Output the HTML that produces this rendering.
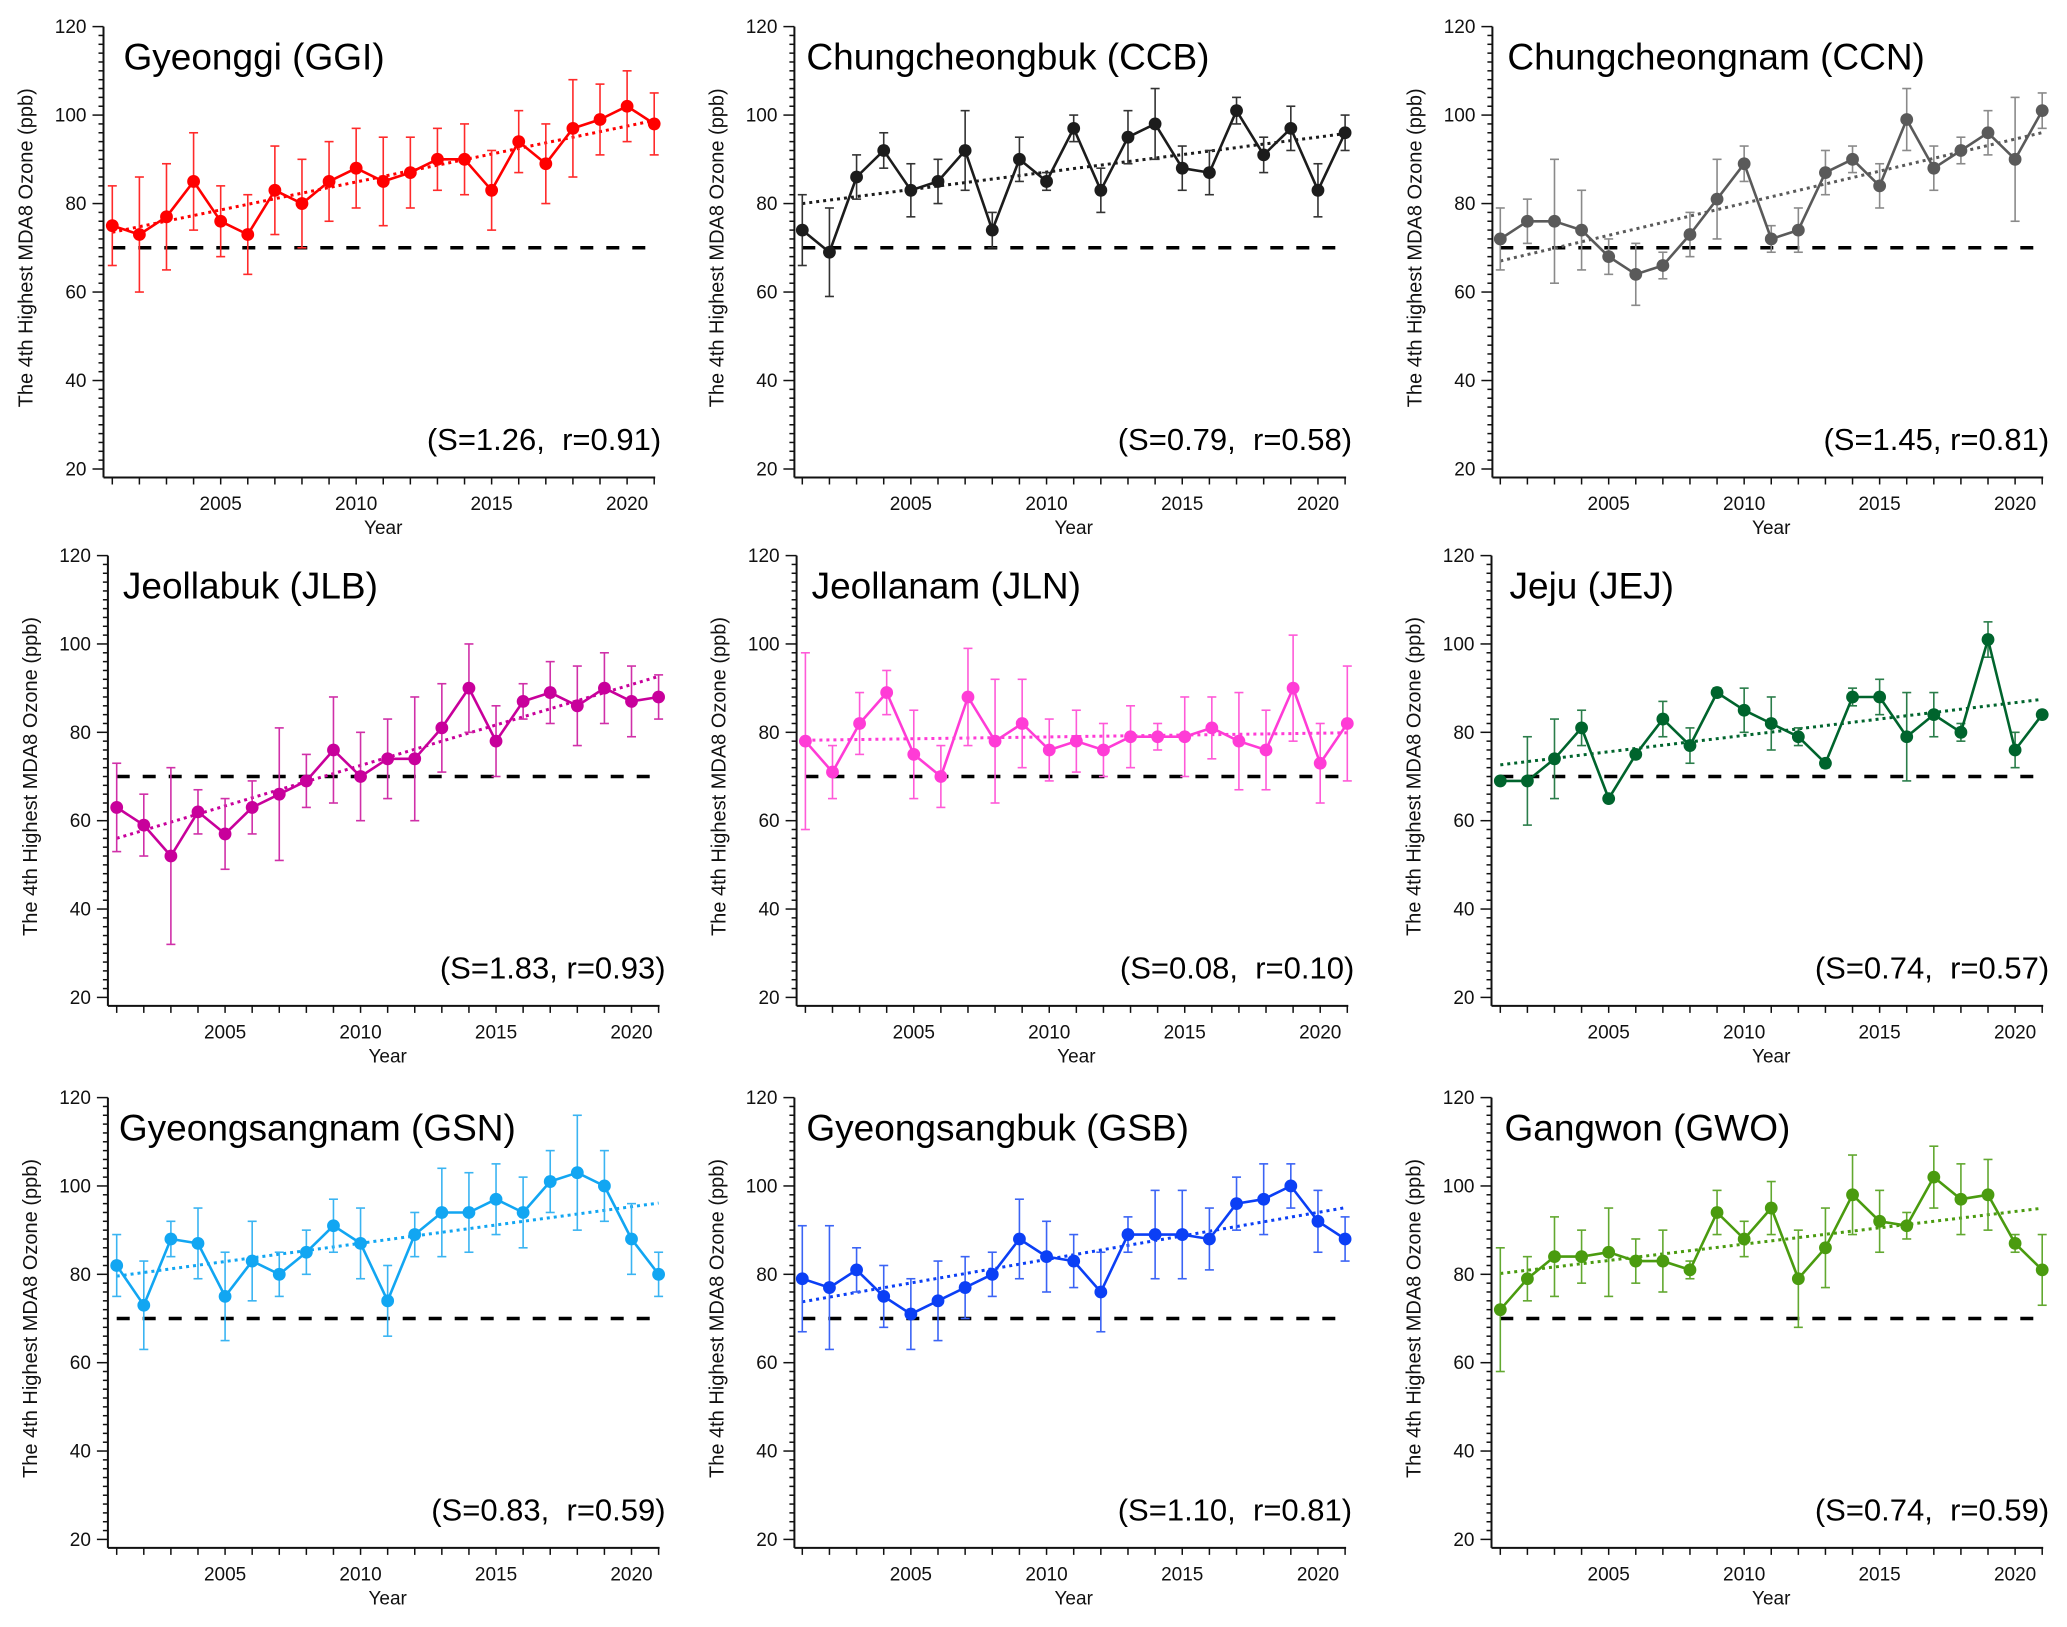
<!DOCTYPE html>
<html><head><meta charset="utf-8"><title>MDA8 Ozone trends</title>
<style>
html,body{margin:0;padding:0;background:#fff;}
svg{display:block;font-family:"Liberation Sans",Arial,sans-serif;}
</style></head>
<body>
<svg id="chart" xmlns="http://www.w3.org/2000/svg" width="2067" height="1627" viewBox="0 0 2067 1627"></svg>
<script>
const years = [2001,2002,2003,2004,2005,2006,2007,2008,2009,2010,2011,2012,2013,2014,2015,2016,2017,2018,2019,2020,2021];
const yTickLabels = [20,40,60,80,100,120];
const xTickLabels = [2005,2010,2015,2020];
const standardLevel = 70;

const ggiValues = [75,73,77,85,76,73,83,80,85,88,85,87,90,90,83,94,89,97,99,102,98];
const ggiLow    = [66,60,65,74,68,64,73,70,76,79,75,79,83,82,74,87,80,86,91,94,91];
const ggiHigh   = [84,86,89,96,84,82,93,90,94,97,95,95,97,98,92,101,98,108,107,110,105];

const ccbValues = [74,69,86,92,83,85,92,74,90,85,97,83,95,98,88,87,101,91,97,83,96];
const ccbLow    = [66,59,81,88,77,80,83,70,85,83,94,78,89,90,83,82,98,87,92,77,92];
const ccbHigh   = [82,79,91,96,89,90,101,78,95,87,100,88,101,106,93,92,104,95,102,89,100];

const ccnValues = [72,76,76,74,68,64,66,73,81,89,72,74,87,90,84,99,88,92,96,90,101];
const ccnLow    = [65,71,62,65,64,57,63,68,72,85,69,69,82,87,79,92,83,89,91,76,97];
const ccnHigh   = [79,81,90,83,72,71,69,78,90,93,75,79,92,93,89,106,93,95,101,104,105];

const jlbValues = [63,59,52,62,57,63,66,69,76,70,74,74,81,90,78,87,89,86,90,87,88];
const jlbLow    = [53,52,32,57,49,57,51,63,64,60,65,60,71,80,70,83,82,77,82,79,83];
const jlbHigh   = [73,66,72,67,65,69,81,75,88,80,83,88,91,100,86,91,96,95,98,95,93];

const jlnValues = [78,71,82,89,75,70,88,78,82,76,78,76,79,79,79,81,78,76,90,73,82];
const jlnLow    = [58,65,75,84,65,63,77,64,72,69,71,70,72,76,70,74,67,67,78,64,69];
const jlnHigh   = [98,77,89,94,85,77,99,92,92,83,85,82,86,82,88,88,89,85,102,82,95];

const jejValues = [69,69,74,81,65,75,83,77,89,85,82,79,73,88,88,79,84,80,101,76,84];
const jejLow    = [69,59,65,77,65,75,79,73,88,80,76,77,72,86,84,69,79,78,97,72,84];
const jejHigh   = [69,79,83,85,65,75,87,81,90,90,88,81,74,90,92,89,89,82,105,80,84];

const gsnValues = [82,73,88,87,75,83,80,85,91,87,74,89,94,94,97,94,101,103,100,88,80];
const gsnLow    = [75,63,84,79,65,74,75,80,85,79,66,84,84,85,89,86,94,90,92,80,75];
const gsnHigh   = [89,83,92,95,85,92,85,90,97,95,82,94,104,103,105,102,108,116,108,96,85];

const gsbValues = [79,77,81,75,71,74,77,80,88,84,83,76,89,89,89,88,96,97,100,92,88];
const gsbLow    = [67,63,76,68,63,65,70,75,79,76,77,67,85,79,79,81,90,89,95,85,83];
const gsbHigh   = [91,91,86,82,79,83,84,85,97,92,89,85,93,99,99,95,102,105,105,99,93];

const gwoValues = [72,79,84,84,85,83,83,81,94,88,95,79,86,98,92,91,102,97,98,87,81];
const gwoLow    = [58,74,75,78,75,78,76,79,89,84,89,68,77,89,85,88,95,89,90,85,73];
const gwoHigh   = [86,84,93,90,95,88,90,83,99,92,101,90,95,107,99,94,109,105,106,89,89];

const panelNames = ["Gyeonggi (GGI)","Chungcheongbuk (CCB)","Chungcheongnam (CCN)","Jeollabuk (JLB)","Jeollanam (JLN)","Jeju (JEJ)","Gyeongsangnam (GSN)","Gyeongsangbuk (GSB)","Gangwon (GWO)"];
const panelStats = ["(S=1.26,  r=0.91)","(S=0.79,  r=0.58)","(S=1.45, r=0.81)","(S=1.83, r=0.93)","(S=0.08,  r=0.10)","(S=0.74,  r=0.57)","(S=0.83,  r=0.59)","(S=1.10,  r=0.81)","(S=0.74,  r=0.59)"];
const panelKeys = ["ggi","ccb","ccn","jlb","jln","jej","gsn","gsb","gwo"];
const seriesVals = [ggiValues,ccbValues,ccnValues,jlbValues,jlnValues,jejValues,gsnValues,gsbValues,gwoValues];
const seriesLow = [ggiLow,ccbLow,ccnLow,jlbLow,jlnLow,jejLow,gsnLow,gsbLow,gwoLow];
const seriesHigh = [ggiHigh,ccbHigh,ccnHigh,jlbHigh,jlnHigh,jejHigh,gsnHigh,gsbHigh,gwoHigh];

// layout (pixels)
const colors = ["#ff0000","#1c1c1c","#5a5a5a","#c8009b","#ff3cd6","#00642d","#12a6f2","#0b3ff5","#4a9b0f"];
const errColors = ["#ff2a2a","#333333","#8a8a8a","#d030a8","#ff5ad8","#2a7d4a","#3ab4f2","#3b64f5","#62a830"];
const layout = [
 {ax:103.5,x0:112.3,x1:654.2,yt:26.6,yb:469,tdx:20},
 {ax:794.4,x0:802.3,x1:1345.1,yt:26.6,yb:469,tdx:12},
 {ax:1492.4,x0:1500.3,x1:2042.2,yt:26.6,yb:469,tdx:15},
 {ax:107.9,x0:116.7,x1:658.6,yt:555.6,yb:997.4,tdx:15},
 {ax:796.6,x0:805.4,x1:1347.3,yt:555.6,yb:997.4,tdx:15},
 {ax:1491.5,x0:1500.3,x1:2042.2,yt:555.6,yb:997.4,tdx:18},
 {ax:107.9,x0:116.7,x1:658.6,yt:1097.6,yb:1539.4,tdx:11},
 {ax:794.4,x0:802.3,x1:1345.1,yt:1097.6,yb:1539.4,tdx:12},
 {ax:1491.5,x0:1500.3,x1:2042.2,yt:1097.6,yb:1539.4,tdx:13}
];

const NS = "http://www.w3.org/2000/svg";
const svg = document.getElementById("chart");
function mk(tag, attrs, parent){
  const e = document.createElementNS(NS, tag);
  for (const k in attrs) e.setAttribute(k, attrs[k]);
  (parent||svg).appendChild(e);
  return e;
}

for (let p = 0; p < 9; p++) {
  const L = layout[p];
  const key = panelKeys[p];
  const vals = seriesVals[p], lo = seriesLow[p], hi = seriesHigh[p];
  const col = colors[p], ecol = errColors[p];
  const xS = y => L.x0 + (y - years[0]) * (L.x1 - L.x0) / (years[years.length-1] - years[0]);
  const yS = v => L.yb - (v - 20) * (L.yb - L.yt) / 100;
  const axisBottom = L.yb + 8.5;

  const g = mk("g", {});
  
  

  // axes
  const yAxis = mk("line", {x1:L.ax, y1:L.yt, x2:L.ax, y2:axisBottom, stroke:"#111", "stroke-width":2}, g);
  
  
  const xAxis = mk("line", {x1:L.ax, y1:axisBottom, x2:L.x1+1, y2:axisBottom, stroke:"#111", "stroke-width":2}, g);
  
  

  // y ticks
  for (let v = 20; v <= 120; v += 2) {
    const major = v % 20 === 0;
    mk("line", {x1:L.ax - (major ? 11 : 5), y1:yS(v), x2:L.ax, y2:yS(v), stroke:"#111", "stroke-width":1.5}, g);
  }
  yTickLabels.forEach(v => {
    const t = mk("text", {x:L.ax - 17, y:yS(v) + 6.5, "text-anchor":"end", "font-size":19, fill:"#111"}, g);
    t.textContent = v;
    
    
  });
  // x ticks
  years.forEach(y => {
    mk("line", {x1:xS(y), y1:axisBottom, x2:xS(y), y2:axisBottom + 7, stroke:"#111", "stroke-width":1.5}, g);
  });
  xTickLabels.forEach(y => {
    const t = mk("text", {x:xS(y), y:L.yb + 41, "text-anchor":"middle", "font-size":19, fill:"#111"}, g);
    t.textContent = y;
    
    
  });
  const xt = mk("text", {x:(L.x0 + L.x1)/2, y:L.yb + 65, "text-anchor":"middle", "font-size":19, fill:"#111"}, g);
  xt.textContent = "Year";
  
  
  const yc = (L.yt + L.yb)/2, yx = L.ax - 77;
  const yt = mk("text", {x:yx, y:yc, "text-anchor":"middle", "dominant-baseline":"central", "font-size":20, fill:"#111", transform:"rotate(-90 "+yx+" "+yc+")"}, g);
  yt.textContent = "The 4th Highest MDA8 Ozone (ppb)";
  
  

  // title & stats
  const tt = mk("text", {x:L.ax + L.tdx, y:L.yt + 43, "font-size":37, fill:"#000"}, g);
  tt.textContent = panelNames[p];
  
  
  const st = mk("text", {x:L.x1 + 7, y:L.yb - 19, "text-anchor":"end", "font-size":31, fill:"#000", "xml:space":"preserve", style:"white-space:pre"}, g);
  st.textContent = panelStats[p];
  
  

  // standard dashed line
  const dl = mk("line", {x1:xS(years[0]), y1:yS(standardLevel), x2:xS(years[years.length-1]), y2:yS(standardLevel), stroke:"#000", "stroke-width":3.5, "stroke-dasharray":"13 13"}, g);
  
  

  // regression trend
  const n = years.length;
  let sx=0, sy=0, sxx=0, sxy=0;
  for (let i=0;i<n;i++){ sx+=years[i]; sy+=vals[i]; sxx+=years[i]*years[i]; sxy+=years[i]*vals[i]; }
  const slope = (n*sxy - sx*sy)/(n*sxx - sx*sx);
  const icpt = (sy - slope*sx)/n;
  const y0 = years[0], y1 = years[n-1];
  const tl = mk("line", {x1:xS(y0), y1:yS(icpt + slope*y0), x2:xS(y1), y2:yS(icpt + slope*y1), stroke:col, "stroke-width":3, "stroke-dasharray":"3 4"}, g);
  
  

  // error bars
  years.forEach((y, i) => {
    if (hi[i] - lo[i] < 0.5) return;
    const eg = mk("g", {stroke:ecol, "stroke-width":1.6, fill:"none"}, g);
    
    
    mk("line", {x1:xS(y), y1:yS(lo[i]), x2:xS(y), y2:yS(hi[i])}, eg);
    mk("line", {x1:xS(y)-4.5, y1:yS(lo[i]), x2:xS(y)+4.5, y2:yS(lo[i])}, eg);
    mk("line", {x1:xS(y)-4.5, y1:yS(hi[i]), x2:xS(y)+4.5, y2:yS(hi[i])}, eg);
  });

  // series line
  const pts = years.map((y,i) => xS(y).toFixed(1) + "," + yS(vals[i]).toFixed(1)).join(" ");
  const pl = mk("polyline", {points:pts, fill:"none", stroke:col, "stroke-width":2.6, "stroke-linejoin":"round"}, g);
  
  
  years.forEach((y, i) => {
    const c = mk("circle", {cx:xS(y), cy:yS(vals[i]), r:6.4, fill:col}, g);
    
    
  });
}
</script>
</body></html>
